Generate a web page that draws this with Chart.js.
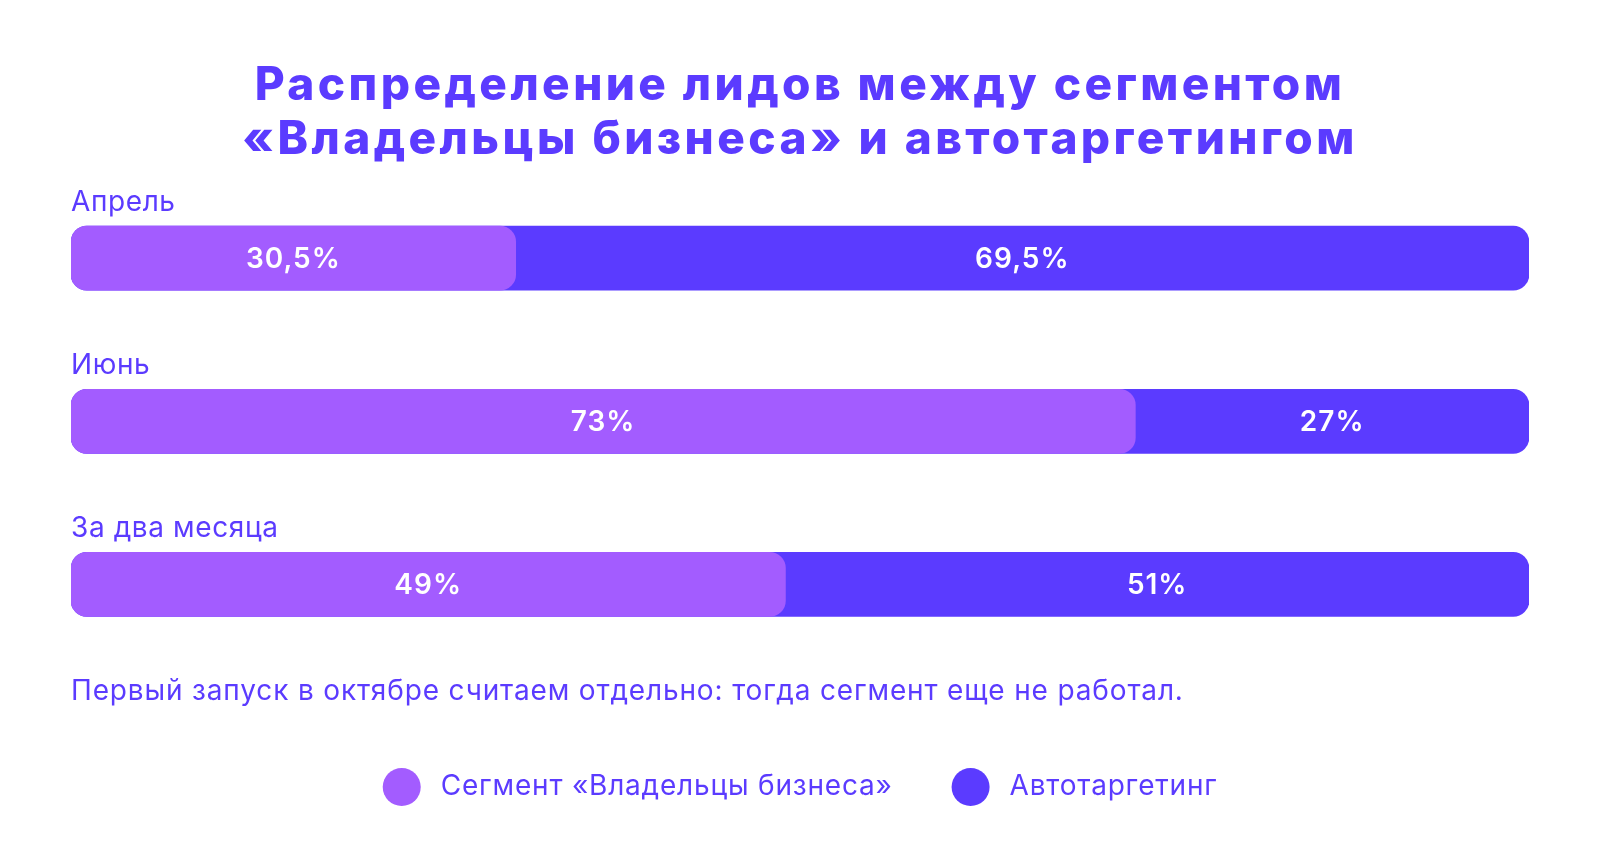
<!DOCTYPE html>
<html><head><meta charset="utf-8">
<script src="https://cdn.jsdelivr.net/npm/chart.js@4"></script>
<style>html,body{margin:0;padding:0;background:#fff}#wrap{width:1600px;height:864px;position:relative}</style>
</head><body><div id="wrap"><canvas id="c"></canvas></div>
<script>
const categories = ['Апрель', 'Июнь', 'За два месяца'];
const segmentShare = [30.5, 73, 49];
const autoShare = [69.5, 27, 51];
const valueLabelsSegment = ['30,5%', '73%', '49%'];
const valueLabelsAuto = ['69,5%', '27%', '51%'];
const seriesNames = ['Сегмент «Владельцы бизнеса»', 'Автотаргетинг'];
const titleLines = ['Распределение лидов между сегментом', '«Владельцы бизнеса» и автотаргетингом'];
const noteText = 'Первый запуск в октябре считаем отдельно: тогда сегмент еще не работал.';

const colLight = '#a35cff';
const colDark = '#5b3bff';
const FONT = 'Inter, "Noto Sans", sans-serif';

const spacingPlugin = {
  id: 'spacingPlugin',
  beforeDraw(chart) { chart.ctx.letterSpacing = '3.4px'; },
  beforeDatasetsDraw(chart) { chart.ctx.letterSpacing = '0px'; }
};

const textPlugin = {
  id: 'textPlugin',
  afterDatasetsDraw(chart) {
    const ctx = chart.ctx;
    const ca = chart.chartArea;
    const m0 = chart.getDatasetMeta(0);
    const m1 = chart.getDatasetMeta(1);
    ctx.save();
    ctx.textBaseline = 'middle';
    categories.forEach((cat, i) => {
      const a = m0.data[i], b = m1.data[i];
      const top = a.y - a.height / 2;
      ctx.fillStyle = colDark;
      ctx.font = '400 28px ' + FONT;
      ctx.letterSpacing = '0.6px';
      ctx.textAlign = 'left';
      ctx.fillText(cat, ca.left, top - 24);
      ctx.fillStyle = '#ffffff';
      ctx.font = '600 28px ' + FONT;
      ctx.letterSpacing = '1px';
      ctx.textAlign = 'center';
      ctx.fillText(valueLabelsSegment[i], (a.base + a.x) / 2, a.y + 1);
      ctx.fillText(valueLabelsAuto[i], (a.x + b.x) / 2, b.y + 1);
    });
    // note
    ctx.fillStyle = colDark;
    ctx.font = '400 28px ' + FONT;
    ctx.letterSpacing = '0.85px';
    ctx.textAlign = 'left';
    ctx.fillText(noteText, ca.left, ca.bottom + 26);
    // legend
    ctx.letterSpacing = '0.8px';
    const colors = chart.data.datasets.map(d => d.backgroundColor);
    const labels = chart.data.datasets.map(d => d.label);
    const r = 19, gapText = 20, gapItem = 59;
    const widths = labels.map(l => ctx.measureText(l).width);
    const total = widths.reduce((s, w) => s + 2 * r + gapText + w, 0) + gapItem * (labels.length - 1);
    let x = chart.width / 2 - total / 2;
    const y = ca.bottom + 121;
    labels.forEach((l, i) => {
      ctx.fillStyle = colors[i];
      ctx.beginPath();
      ctx.arc(x + r, y, r, 0, Math.PI * 2);
      ctx.fill();
      x += 2 * r + gapText;
      ctx.fillStyle = colDark;
      ctx.fillText(l, x, y);
      x += widths[i] + gapItem;
    });
    ctx.restore();
  }
};

new Chart(document.getElementById('c'), {
  type: 'bar',
  data: {
    labels: categories,
    datasets: [
      {
        label: seriesNames[0],
        data: segmentShare.map(v => [0, v]),
        backgroundColor: colLight,
        borderRadius: 16,
        borderSkipped: false,
        grouped: false,
        barThickness: 64
      },
      {
        label: seriesNames[1],
        data: segmentShare.map((v, i) => [0, v + autoShare[i]]),
        backgroundColor: colDark,
        borderRadius: 16,
        borderSkipped: false,
        grouped: false,
        barThickness: 64
      }
    ]
  },
  options: {
    indexAxis: 'y',
    responsive: true,
    maintainAspectRatio: false,
    animation: false,
    layout: { padding: { left: 71, right: 71, top: 0, bottom: 198 } },
    scales: {
      x: { display: false, min: 0, max: 100 },
      y: { display: false }
    },
    plugins: {
      legend: { display: false },
      tooltip: { enabled: false },
      title: {
        display: true,
        text: titleLines,
        color: colDark,
        font: { family: FONT, size: 46, weight: '800', lineHeight: 1.17 },
        padding: { top: 59, bottom: 10 }
      }
    }
  },
  plugins: [spacingPlugin, textPlugin]
});
</script>
</body></html>
